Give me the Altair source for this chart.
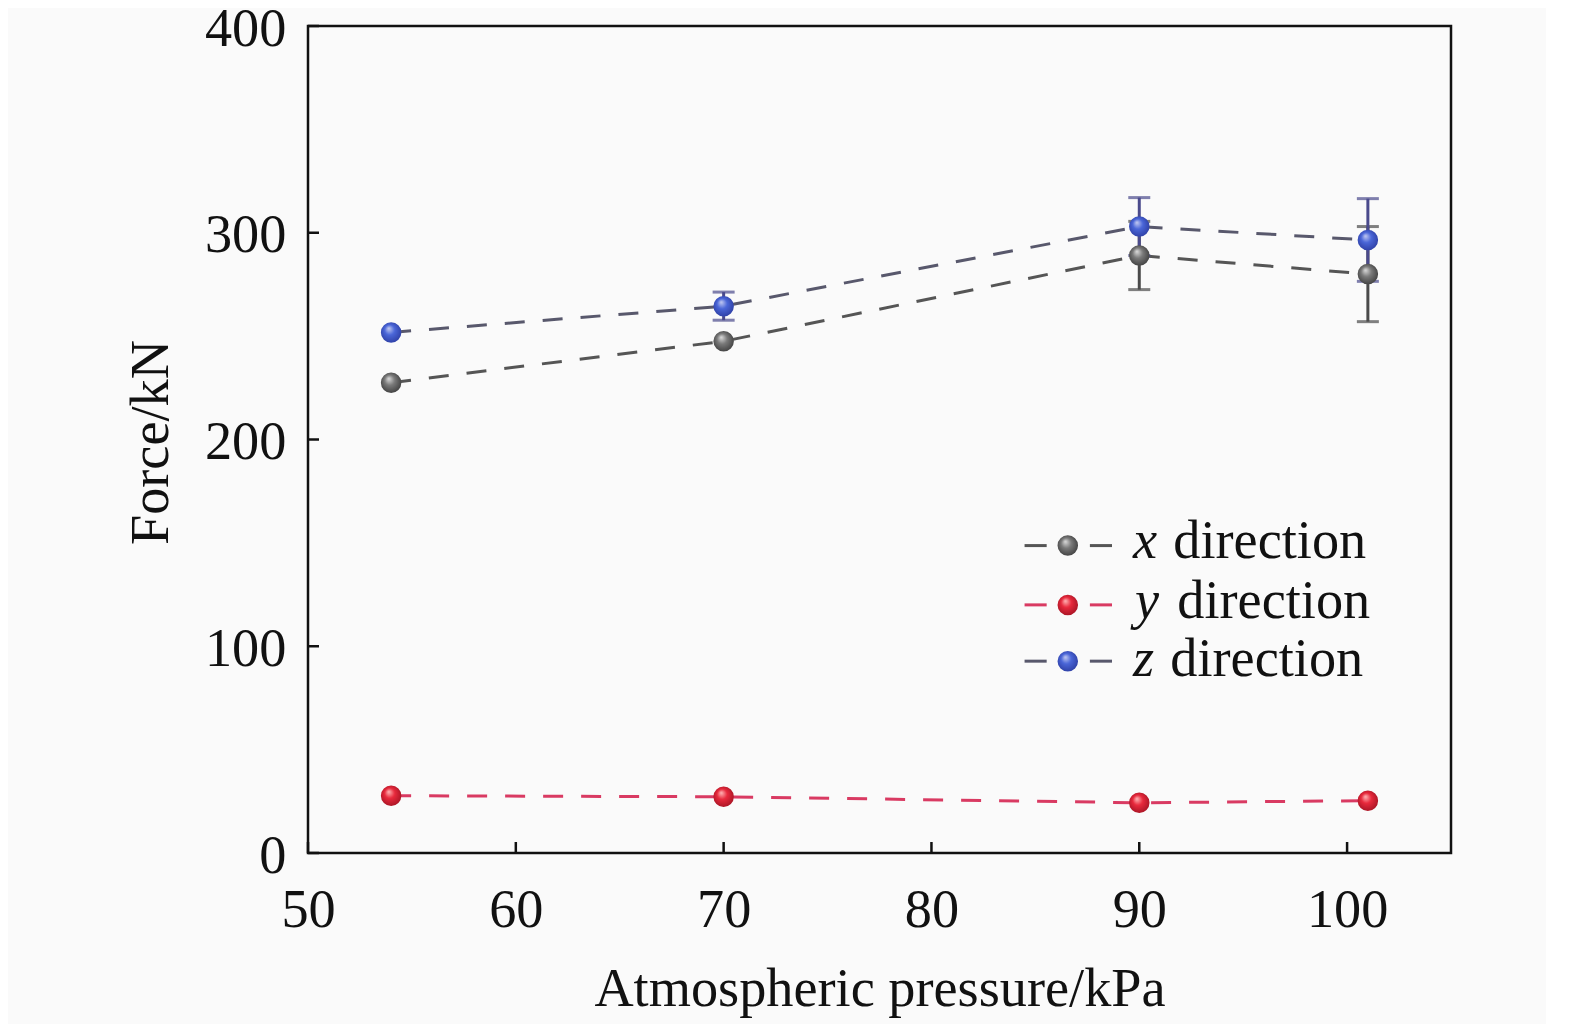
import altair as alt
import pandas as pd

# ---- data ----
pressure = [54, 70, 90, 101]
force_x = [227.5, 247.5, 289.0, 280.0]
force_y = [27.7, 27.2, 24.3, 25.3]
force_z = [251.8, 264.5, 303.0, 296.5]
err_x = [0.0, 0.0, 16.5, 23.0]
err_y = [0.0, 0.0, 0.0, 0.0]
err_z = [0.0, 6.8, 14.0, 20.0]

series_names = ["x", "y", "z"]
legend_suffix = " direction"
x_ticks = [50, 60, 70, 80, 90, 100]
y_ticks = [0, 100, 200, 300, 400]

FONT = "Liberation Serif"
S = 1.005  # small layout compensation
W, H = round(1137 * S), round(823 * S)
FS = 54 * S

line_colors = {"x": "#555555", "y": "#d93a62", "z": "#58586c"}
err_colors = {"x": "#4a4a4a", "y": "#d93a62", "z": "#4a4a8c"}
grads = {
    "x": ["#dcdcdc", "#7a7a7a", "#333333"],
    "y": ["#ffb8b8", "#e8293c", "#9a1020"],
    "z": ["#c4cbf2", "#4a66d8", "#28379a"],
}


def grad(name):
    c = grads[name]
    return {
        "gradient": "radial",
        "x1": 0.38, "y1": 0.3, "r1": 0.0,
        "x2": 0.5, "y2": 0.5, "r2": 0.62,
        "stops": [
            {"offset": 0.0, "color": c[0]},
            {"offset": 0.4, "color": c[1]},
            {"offset": 1.0, "color": c[2]},
        ],
    }


values = {"x": force_x, "y": force_y, "z": force_z}
errors = {"x": err_x, "y": err_y, "z": err_z}

xscale = alt.Scale(domain=[50, 105], nice=False, zero=False)
yscale = alt.Scale(domain=[0, 400], nice=False)

x_axis = alt.Axis(
    title="Atmospheric pressure/kPa", values=x_ticks, grid=False, domain=False,
    tickSize=0, labelFont=FONT, labelFontSize=FS, labelColor="#111111",
    labelBaseline="alphabetic", labelPadding=73 * S, labelFlush=False,
    titleFont=FONT, titleFontSize=FS, titleFontWeight="normal", titleColor="#111111",
    titleBaseline="alphabetic", titleX=W / 2, titleY=152 * S, titleAlign="center",
)
y_axis = alt.Axis(
    title="Force/kN", values=y_ticks, grid=False, domain=False,
    tickSize=0, labelFont=FONT, labelFontSize=FS, labelColor="#111111",
    labelBaseline="middle", labelPadding=22 * S, labelOffset=3, labelFlush=False,
    titleFont=FONT, titleFontSize=FS, titleFontWeight="normal", titleColor="#111111",
    titleBaseline="alphabetic", titleAngle=-90, titleX=-140 * S, titleY=414 * S, titleAlign="center",
)


def X(field):
    return alt.X(field, scale=xscale, axis=x_axis, title="Atmospheric pressure/kPa")


def Y(field):
    return alt.Y(field, scale=yscale, axis=y_axis, title="Force/kN")


layers = []

# dashed lines
for s in series_names:
    df = pd.DataFrame({"p": pressure, "f": values[s]})
    layers.append(
        alt.Chart(df).mark_line(
            color=line_colors[s], strokeWidth=3, strokeDash=[20, 18]
        ).encode(x=X("p:Q"), y=Y("f:Q"))
    )

# error bars (rule + caps)
for s in series_names:
    df = pd.DataFrame({"p": pressure, "f": values[s], "e": errors[s]})
    df = df[df["e"] > 0].copy()
    if df.empty:
        continue
    df["lo"] = df["f"] - df["e"]
    df["hi"] = df["f"] + df["e"]
    base = alt.Chart(df)
    layers.append(
        base.mark_rule(color=err_colors[s], strokeWidth=3).encode(
            x=X("p:Q"), y=Y("lo:Q"), y2="hi:Q",
        )
    )
    for end in ["lo", "hi"]:
        layers.append(
            base.mark_tick(color=err_colors[s], thickness=3, size=22, orient="horizontal").encode(
                x=X("p:Q"), y=Y(f"{end}:Q"),
            )
        )

# sphere-like markers
for s in series_names:
    df = pd.DataFrame({"p": pressure, "f": values[s]})
    layers.append(
        alt.Chart(df).mark_point(
            filled=True, shape="circle", size=420, opacity=1, fill=grad(s), strokeWidth=0
        ).encode(x=X("p:Q"), y=Y("f:Q"))
    )

# inward tick marks
xt = pd.DataFrame({"t": x_ticks})
yt = pd.DataFrame({"t": y_ticks})
layers.append(
    alt.Chart(xt).mark_rule(color="#111111", strokeWidth=2.5).encode(
        x=X("t:Q"), y=alt.value(H), y2=alt.value(H - 11)
    )
)
layers.append(
    alt.Chart(yt).mark_rule(color="#111111", strokeWidth=2.5).encode(
        y=Y("t:Q"), x=alt.value(0), x2=alt.value(11)
    )
)

# manual legend
row_marker_y = [517, 576, 632]
row_text_y = [529, 589, 647]
letter_x = [821, 823, 821]
word_x = [861, 865, 858]
for i, s in enumerate(series_names):
    d = pd.DataFrame({"letter": [s], "word": [legend_suffix.strip()]})
    b = alt.Chart(d)
    for x0, x1 in [(713, 735), (778, 800)]:
        layers.append(
            b.mark_rule(color=line_colors[s], strokeWidth=3).encode(
                x=alt.value(x0 * S), x2=alt.value(x1 * S), y=alt.value(row_marker_y[i] * S)
            )
        )
    layers.append(
        b.mark_point(filled=True, shape="circle", size=420, opacity=1, fill=grad(s), strokeWidth=0).encode(
            x=alt.value(756 * S), y=alt.value(row_marker_y[i] * S)
        )
    )
    layers.append(
        b.mark_text(font=FONT, fontSize=FS, fontStyle="italic", align="left",
                    baseline="alphabetic", color="#111111").encode(
            x=alt.value(letter_x[i] * S), y=alt.value(row_text_y[i] * S), text="letter:N"
        )
    )
    layers.append(
        b.mark_text(font=FONT, fontSize=FS, align="left",
                    baseline="alphabetic", color="#111111").encode(
            x=alt.value(word_x[i] * S), y=alt.value(row_text_y[i] * S), text="word:N"
        )
    )

chart = alt.layer(*layers).properties(
    width=W, height=H,
    autosize=alt.AutoSizeParams(type="none"),
    padding={"left": round(299 * S), "top": round(18 * S), "right": 95, "bottom": 172},
    background="#fafafa",
).configure_view(stroke="#111111", strokeWidth=2.5, fill="#fafafa")

chart.save("out.html", embed_options={"renderer": "svg", "actions": False})
